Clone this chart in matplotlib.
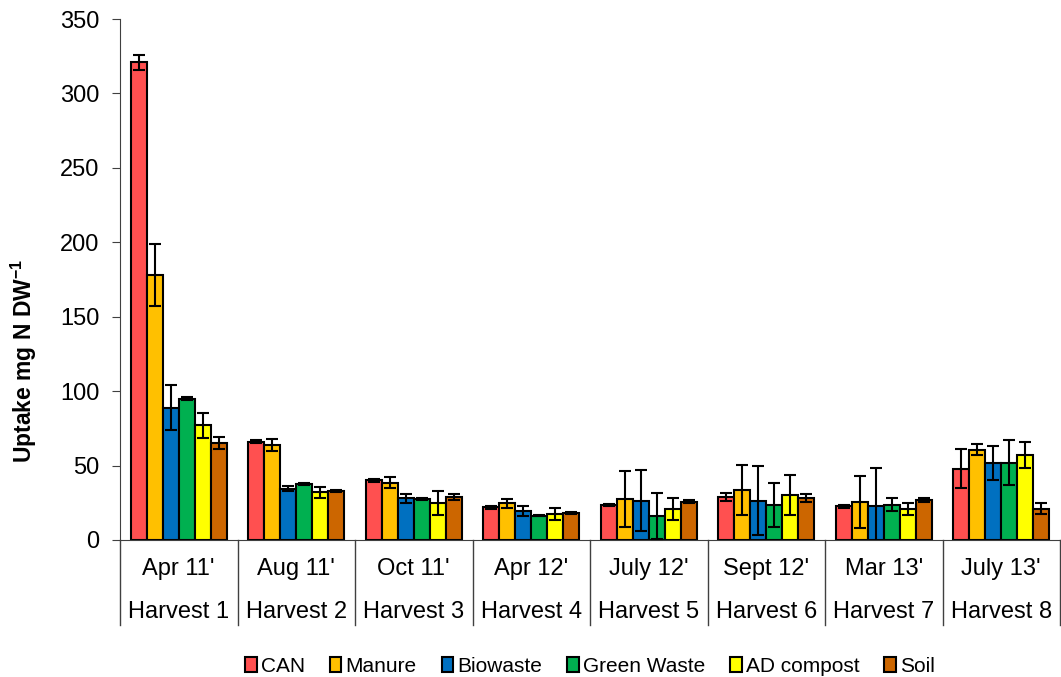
import numpy as np
import matplotlib
matplotlib.use("Agg")
import matplotlib.pyplot as plt
from matplotlib.patches import Patch

plt.rcParams["font.family"] = ["Liberation Sans", "DejaVu Sans"]
plt.rcParams["mathtext.fontset"] = "custom"
plt.rcParams["mathtext.bf"] = "Liberation Sans:bold"
plt.rcParams["mathtext.rm"] = "Liberation Sans"

dates = ["Apr 11'", "Aug 11'", "Oct 11'", "Apr 12'", "July 12'", "Sept 12'", "Mar 13'", "July 13'"]
harvests = ["Harvest 1", "Harvest 2", "Harvest 3", "Harvest 4",
            "Harvest 5", "Harvest 6", "Harvest 7", "Harvest 8"]
treatments = ["CAN", "Manure", "Biowaste", "Green Waste", "AD compost", "Soil"]
colors = ["#FF5050", "#FFC000", "#0070C0", "#00B050", "#FFFF00", "#CC6600"]

# mean uptake per treatment, one value per harvest
can = [321, 66, 40, 22, 23.5, 29, 22.8, 48]
manure = [178, 64, 38.3, 24.6, 27.5, 33.6, 25.3, 60.7]
biowaste = [89, 34.5, 28, 19.3, 26.4, 26.4, 22.6, 52]
green = [95, 37.5, 27.5, 16.3, 16.3, 23.5, 23.7, 52]
ad_compost = [77, 32, 24.6, 17.5, 20.8, 30.3, 20.8, 57.4]
soil = [65, 33, 28.7, 18.2, 25.7, 28.2, 26.9, 21]

# standard errors
can_err = [5, 1, 1, 1, 0.8, 2.7, 1, 12.8]
manure_err = [21, 4, 3.7, 3, 19, 17, 17.5, 3.8]
biowaste_err = [15, 1.5, 3, 3.3, 20.6, 23.3, 26, 11.4]
green_err = [1, 0.8, 0.8, 0.5, 15.5, 15, 4.5, 15]
ad_err = [8.5, 3.5, 8, 4, 7.4, 13.4, 3.8, 8.7]
soil_err = [4, 0.5, 2, 0.5, 1, 2.7, 1.5, 3.6]

series = [can, manure, biowaste, green, ad_compost, soil]
errors = [can_err, manure_err, biowaste_err, green_err, ad_err, soil_err]

fig = plt.figure(figsize=(10.61, 6.77), dpi=100)
ax = fig.add_axes([120 / 1061, 1 - 540 / 677, 940 / 1061, 521 / 677])

n_groups = len(dates)
bar_w = 0.136
x = np.arange(n_groups) + 0.5
offsets = (np.arange(len(treatments)) - 2.5) * bar_w

for vals, errs, col, off, name in zip(series, errors, colors, offsets, treatments):
    ax.bar(x + off, vals, width=bar_w, color=col, edgecolor="black",
           linewidth=1.5, label=name, zorder=2)
    ax.errorbar(x + off, vals, yerr=errs, fmt="none", ecolor="black",
                elinewidth=1.5, capsize=4, capthick=1.5, zorder=3)

ax.set_xlim(0, n_groups)
ax.set_ylim(0, 350)
ax.set_yticks(np.arange(0, 351, 50))
ax.tick_params(axis="y", labelsize=17, length=6, color="#404040", pad=9)
ax.set_xticks([])
ax.spines["top"].set_visible(False)
ax.spines["right"].set_visible(False)
ax.spines["left"].set_color("#404040")
ax.spines["bottom"].set_color("#404040")

# y label sits lower than the axis centre in the original
fig.text(24 / 1061, 1 - 361 / 677, r"Uptake mg N DW$^{\mathbf{-1}}$", rotation=90,
         ha="center", va="center", fontsize=16.5, fontweight="bold")

# category separators and two-level labels below the axis
trans = ax.get_xaxis_transform()
for i in range(n_groups + 1):
    ax.plot([i, i], [0, -0.163], color="#404040", lw=1, transform=trans, clip_on=False)
for i in range(n_groups):
    ax.text(i + 0.5, -0.055, dates[i], transform=trans, ha="center", va="center", fontsize=17)
    ax.text(i + 0.5, -0.138, harvests[i], transform=trans, ha="center", va="center", fontsize=17)

handles = [Patch(facecolor=c, edgecolor="black", linewidth=1.5) for c in colors]
fig.legend(handles, treatments, loc="center", bbox_to_anchor=(590 / 1061, 1 - 666 / 677),
           ncol=6, frameon=False, fontsize=15, handlelength=0.55, handleheight=0.75,
           handletextpad=0.2, columnspacing=1.2, borderpad=0)

fig.savefig("out.png", dpi=100)
